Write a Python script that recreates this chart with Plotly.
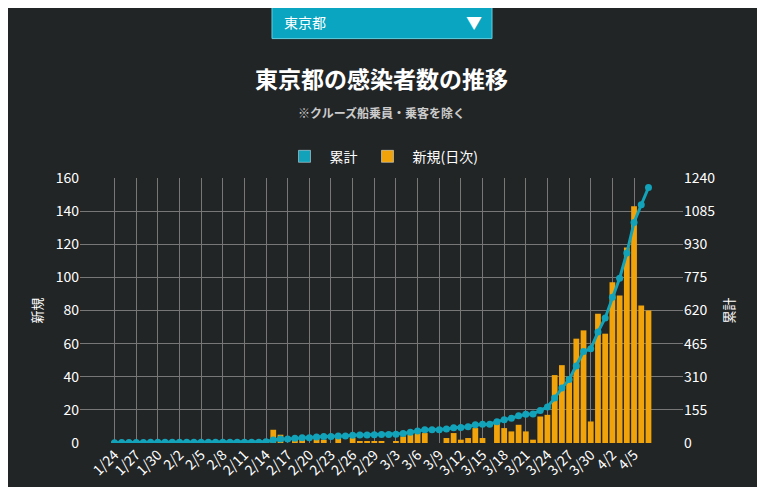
import datetime as dt
import plotly.graph_objects as go

daily = [1,1,0,0,0,1,0,0,
         0,0,0,0,0,0,0,0,0,0,0,0,1,2,8,5,0,3,3,0,3,2,0,3,0,3,1,1,1,
         1,0,1,4,5,6,6,0,0,3,6,2,3,9,3,0,12,9,7,11,7,2,16,17,41,47,40,63,68,13,78,
         66,97,89,118,143,83,80]
start = dt.date(2020,1,24)
dates = [f"{(start+dt.timedelta(d)).month}/{(start+dt.timedelta(d)).day}" for d in range(len(daily))]
cum = []
s = 0
for v in daily:
    s += v
    cum.append(s)
tick_labels = dates[::3]

bg = "#222526"
teal = "#12A3BA"
orange = "#F0A30A"
fig = go.Figure()
fig.add_trace(go.Bar(x=dates, y=daily, name="新規(日次)", marker=dict(color=orange, line_width=0), yaxis="y", showlegend=False))
fig.add_trace(go.Scatter(x=dates, y=cum, name="累計", mode="lines+markers", showlegend=False,
                         line=dict(color=teal, width=3), marker=dict(size=7, color=teal), yaxis="y2"))
fig.add_trace(go.Bar(x=[dates[0]], y=[None], name="累計", marker=dict(color=teal), yaxis="y"))
fig.add_trace(go.Bar(x=[dates[0]], y=[None], name="新規(日次)", marker=dict(color=orange), yaxis="y"))

H = 249
def py(pix):
    return (427 - pix) / H

fig.update_layout(
    width=765, height=487, paper_bgcolor=bg, plot_bgcolor=bg,
    font=dict(family="Noto Sans CJK JP", color="white", size=14),
    margin=dict(l=72, r=90, t=170, b=52, autoexpand=False),
    bargap=0.2, barmode="overlay", showlegend=True,
    legend=dict(orientation="h", x=0.5, xanchor="center", y=py(158), yanchor="middle", traceorder="normal",
                font=dict(size=14), bgcolor="rgba(0,0,0,0)", itemwidth=40),
    xaxis=dict(type="category", tickmode="array", tickvals=tick_labels, ticktext=tick_labels, tickangle=-45,
               showgrid=True, gridcolor="#777", tickfont=dict(size=14), showline=False, zeroline=False, automargin=False),
    yaxis=dict(range=[0,160], dtick=20, gridcolor="#777", title=dict(text="新規", font=dict(size=13), standoff=10),
               tickfont=dict(size=14), zeroline=False, automargin=False),
    yaxis2=dict(range=[0,1240], dtick=155, overlaying="y", side="right", showgrid=False,
                title=dict(text="累計", font=dict(size=13), standoff=10), tickfont=dict(size=14), zeroline=False, automargin=False),
    shapes=[dict(type="rect", xref="paper", yref="paper", x0=(272-80)/603, x1=(492-80)/603,
                 y0=py(47), y1=py(16), fillcolor="#0AA5C0", line=dict(color="#5FD0E0", width=1))],
    annotations=[
        dict(text="東京都", xref="paper", yref="paper", x=(282-80)/603, y=py(31), xanchor="left", yanchor="middle",
             showarrow=False, font=dict(size=14, color="white")),
        dict(text="▼", xref="paper", yref="paper", x=(484-80)/603, y=py(31), xanchor="right", yanchor="middle",
             showarrow=False, font=dict(size=16, color="white")),
        dict(text="<b>東京都の感染者数の推移</b>", xref="paper", yref="paper", x=0.5, y=py(84), yanchor="middle",
             showarrow=False, font=dict(size=23, color="white")),
        dict(text="<b>※クルーズ船乗員・乗客を除く</b>", xref="paper", yref="paper", x=0.5, y=py(116), yanchor="middle",
             showarrow=False, font=dict(size=12, color="#cccccc")),
    ],
)
fig.write_html("out.html")
